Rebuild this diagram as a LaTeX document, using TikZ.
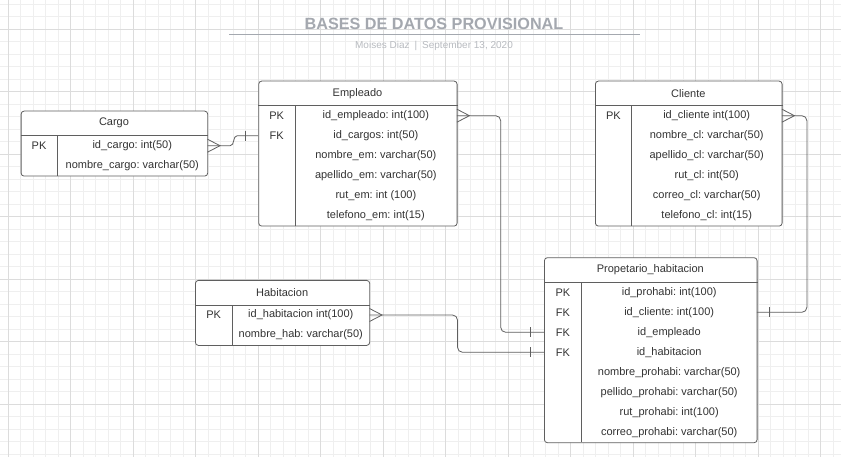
\documentclass[tikz,border=0pt]{standalone}
\usepackage{fontspec}
\setmainfont{Liberation Sans}
\usepackage{tikz}
\usetikzlibrary{positioning}
\definecolor{gridminor}{HTML}{EFEFEF}
\definecolor{gridmajor}{HTML}{DCDCDC}
\definecolor{linegray}{HTML}{5F5F5F}
\definecolor{textgray}{HTML}{333333}
\definecolor{titlegray}{HTML}{A4A8AF}
\definecolor{subgray}{HTML}{B8BBC0}
\frenchspacing

\begin{document}
\begin{tikzpicture}[x=1pt, y=-1pt,
  tbl/.style={draw=linegray, fill=white, rounded corners=3pt, line width=0.8pt, anchor=north west, inner sep=0pt},
  txt/.style={text=textgray, font=\fontsize{11}{13}\selectfont, inner sep=0pt, minimum height=20pt},
  sep/.style={draw=linegray, line width=0.8pt},
  rel/.style={draw=linegray, line width=0.8pt}]
\useasboundingbox (0,0) rectangle (841,457);
\fill[white] (0,0) rectangle (841,457);
\foreach \x in {-4.2,8.3,...,845} \draw[gridminor, line width=0.8pt] (\x,0) -- (\x,457);
\foreach \y in {4.3,16.8,...,460} \draw[gridminor, line width=0.8pt] (0,\y) -- (841,\y);
\foreach \x in {8.3,70.8,...,845} \draw[gridmajor, line width=0.8pt] (\x,0) -- (\x,457);
\foreach \y in {29.3,91.8,...,460} \draw[gridmajor, line width=0.8pt] (0,\y) -- (841,\y);

\node[anchor=base, text=titlegray, font=\fontsize{16.2}{19}\selectfont\bfseries] (title) at (434,29.3) {BASES DE DATOS PROVISIONAL};
\draw[titlegray, line width=1.3pt] (229.3,34.7) -- (640,34.7);
\node[anchor=base, text=subgray, font=\fontsize{10}{12}\selectfont] (sub) at (434,48.5) {Moises Diaz\hspace{5pt}|\hspace{5pt}September 13, 2020};

%Cargo
\node[tbl, minimum width=186.6pt, minimum height=65pt] (cargo) at (20.7,110.7) {};
\node[txt] (cargo-t) at (114,123.2) {Cargo};
\draw[sep] ([yshift=-25pt]cargo.north west) -- ([yshift=-25pt]cargo.north east);
\draw[sep] (57.3,135.7) -- (57.3,175.7);
\foreach \k/\f [count=\i] in {PK/id\_cargo: int(50), {}/nombre\_cargo: varchar(50)} {
  \node[txt, minimum width=36.6pt] (cargo-k\i) at (39,125.7+20*\i) {\k};
  \node[txt, minimum width=150pt] (cargo-f\i) at (132.3,125.7+20*\i) {\f};
}

%Empleado
\node[tbl, minimum width=198.4pt, minimum height=145pt] (emp) at (258.3,80.7) {};
\node[txt] (emp-t) at (357.5,93.2) {Empleado};
\draw[sep] ([yshift=-25pt]emp.north west) -- ([yshift=-25pt]emp.north east);
\draw[sep] (295,105.7) -- (295,225.7);
\foreach \k/\f [count=\i] in {PK/id\_empleado: int(100), FK/id\_cargos: int(50), {}/nombre\_em: varchar(50),
  {}/apellido\_em: varchar(50), {}/rut\_em: int (100), {}/telefono\_em: int(15)} {
  \node[txt, minimum width=36.7pt] (emp-k\i) at (276.65,95.7+20*\i) {\k};
  \node[txt, minimum width=161.7pt] (emp-f\i) at (375.85,95.7+20*\i) {\f};
}

%Cliente
\node[tbl, minimum width=186.7pt, minimum height=145pt] (cli) at (595,80.7) {};
\node[txt] (cli-t) at (688.35,93.2) {Cliente};
\draw[sep] ([yshift=-25pt]cli.north west) -- ([yshift=-25pt]cli.north east);
\draw[sep] (631.7,105.7) -- (631.7,225.7);
\foreach \k/\f [count=\i] in {PK/id\_cliente int(100), {}/nombre\_cl: varchar(50), {}/apellido\_cl: varchar(50),
  {}/rut\_cl: int(50), {}/correo\_cl: varchar(50), {}/telefono\_cl: int(15)} {
  \node[txt, minimum width=36.7pt] (cli-k\i) at (613.35,95.7+20*\i) {\k};
  \node[txt, minimum width=150pt] (cli-f\i) at (706.7,95.7+20*\i) {\f};
}

%Habitacion
\node[tbl, minimum width=174.3pt, minimum height=65pt] (hab) at (195,280) {};
\node[txt] (hab-t) at (282.15,292.5) {Habitacion};
\draw[sep] ([yshift=-25pt]hab.north west) -- ([yshift=-25pt]hab.north east);
\draw[sep] (232.3,305) -- (232.3,345);
\foreach \k/\f [count=\i] in {PK/id\_habitacion int(100), {}/nombre\_hab: varchar(50)} {
  \node[txt, minimum width=37.3pt] (hab-k\i) at (213.65,295+20*\i) {\k};
  \node[txt, minimum width=137pt] (hab-f\i) at (300.8,295+20*\i) {\f};
}

%Propetario_habitacion
\node[tbl, minimum width=212.7pt, minimum height=185pt] (pro) at (544,257.3) {};
\node[txt] (pro-t) at (650.35,269.8) {Propetario\_habitacion};
\draw[sep] ([yshift=-25pt]pro.north west) -- ([yshift=-25pt]pro.north east);
\draw[sep] (581.7,282.3) -- (581.7,442.3);
\foreach \k/\f [count=\i] in {PK/id\_prohabi: int(100), FK/id\_cliente: int(100), FK/id\_empleado, FK/id\_habitacion,
  {}/nombre\_prohabi: varchar(50), {}/pellido\_prohabi: varchar(50), {}/rut\_prohabi: int(100), {}/correo\_prohabi: varchar(50)} {
  \node[txt, minimum width=37.7pt] (pro-k\i) at (562.85,272.3+20*\i) {\k};
  \node[txt, minimum width=175pt] (pro-f\i) at (669.2,272.3+20*\i) {\f};
}

\draw[rel] (cargo-f1.east) -- ++(22.7,0) to[out=0,in=180] ++(7,-10) -- (emp-k2.west);
\draw[rel, rounded corners=5pt] (emp-f1.east) -- ++(43.8,0) |- (pro-k3.west);
\draw[rel, rounded corners=5pt] (cli-f1.east) -- ++(25,0) |- (pro-f2.east);
\draw[rel, rounded corners=5pt] (hab-f1.east) -- ++(88,0) |- (pro-k4.west);
\foreach \n in {cargo-f1,emp-f1,cli-f1,hab-f1}
  \draw[rel] ([yshift=6.5pt]\n.east) -- ([xshift=12.5pt]\n.east) -- ([yshift=-6.5pt]\n.east);
\foreach \n in {emp-k2,pro-k3,pro-k4}
  \draw[rel] ([xshift=-13pt,yshift=5pt]\n.west) -- ([xshift=-13pt,yshift=-5pt]\n.west);
\draw[rel] ([xshift=12.6pt,yshift=5pt]pro-f2.east) -- ([xshift=12.6pt,yshift=-5pt]pro-f2.east);
\end{tikzpicture}
\end{document}
